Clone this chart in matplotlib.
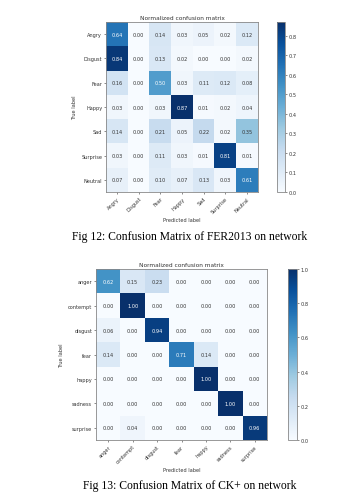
import numpy as np
import matplotlib
matplotlib.use("Agg")
import matplotlib.pyplot as plt

# FER2013 results
fer_labels = ["Angry", "Disgust", "Fear", "Happy", "Sad", "Surprise", "Neutral"]
fer_cm = [
    [0.64, 0.00, 0.14, 0.03, 0.05, 0.02, 0.12],
    [0.84, 0.00, 0.13, 0.02, 0.00, 0.00, 0.02],
    [0.16, 0.00, 0.50, 0.03, 0.11, 0.12, 0.08],
    [0.03, 0.00, 0.03, 0.87, 0.01, 0.02, 0.04],
    [0.14, 0.00, 0.21, 0.05, 0.22, 0.02, 0.35],
    [0.03, 0.00, 0.11, 0.03, 0.01, 0.81, 0.01],
    [0.07, 0.00, 0.10, 0.07, 0.13, 0.03, 0.61],
]

# CK+ results
ck_labels = ["anger", "contempt", "disgust", "fear", "happy", "sadness", "surprise"]
ck_cm = [
    [0.62, 0.15, 0.23, 0.00, 0.00, 0.00, 0.00],
    [0.00, 1.00, 0.00, 0.00, 0.00, 0.00, 0.00],
    [0.06, 0.00, 0.94, 0.00, 0.00, 0.00, 0.00],
    [0.14, 0.00, 0.00, 0.71, 0.14, 0.00, 0.00],
    [0.00, 0.00, 0.00, 0.00, 1.00, 0.00, 0.00],
    [0.00, 0.00, 0.00, 0.00, 0.00, 1.00, 0.00],
    [0.00, 0.04, 0.00, 0.00, 0.00, 0.00, 0.96],
]

W, H = 353, 502
fig = plt.figure(figsize=(W / 100, H / 100), dpi=100)
fs = 3.6


def px(x0, y0, x1, y1):
    return [x0 / W, 1 - y1 / H, (x1 - x0) / W, (y1 - y0) / H]


def plot_cm(cm, labels, ax_box, cb_box, cb_ticks):
    cm = np.array(cm)
    ax = fig.add_axes(px(*ax_box))
    im = ax.imshow(cm, cmap="Blues", aspect="auto", interpolation="nearest")
    ax.set_title("Normalized confusion matrix", fontsize=4.2, pad=2.5, color="#333333")
    ticks = np.arange(len(labels))
    ax.set_xticks(ticks)
    ax.set_xticklabels(labels, rotation=45, ha="right", rotation_mode="anchor")
    ax.set_yticks(ticks)
    ax.set_yticklabels(labels)
    ax.tick_params(labelsize=fs, length=1.5, width=0.4, pad=1.2, colors="#333333")
    thresh = cm.max() / 2.0
    for i in range(cm.shape[0]):
        for j in range(cm.shape[1]):
            ax.text(j, i, format(cm[i, j], ".2f"), ha="center", va="center",
                    fontsize=fs, color="white" if cm[i, j] > thresh else "#333333")
    ax.set_ylabel("True label", fontsize=fs, labelpad=3, color="#333333")
    ax.set_xlabel("Predicted label", fontsize=fs, labelpad=2, color="#333333")
    for s in ax.spines.values():
        s.set_color("#888888")
        s.set_linewidth(0.6)
    cax = fig.add_axes(px(*cb_box))
    cb = fig.colorbar(im, cax=cax, ticks=cb_ticks)
    cb.ax.tick_params(labelsize=fs, length=1.5, width=0.4, pad=1, colors="#333333")
    cb.outline.set_edgecolor("#888888")
    cb.outline.set_linewidth(0.6)


plot_cm(fer_cm, fer_labels, (106, 23, 258, 193), (277, 23, 285, 193),
        [0.0, 0.1, 0.2, 0.3, 0.4, 0.5, 0.6, 0.7, 0.8])
plot_cm(ck_cm, ck_labels, (96, 270, 267, 441), (288, 270, 297, 441),
        [0.0, 0.2, 0.4, 0.6, 0.8, 1.0])

cap = dict(ha="center", va="center", fontsize=8.4, family="Liberation Serif")
fig.text(190 / W, 1 - 237 / H, "Fig 12: Confusion Matrix of FER2013 on network", **cap)
fig.text(190 / W, 1 - 486 / H, "Fig 13: Confusion Matrix of CK+ on network", **cap)

fig.savefig("out.png", dpi=100)
